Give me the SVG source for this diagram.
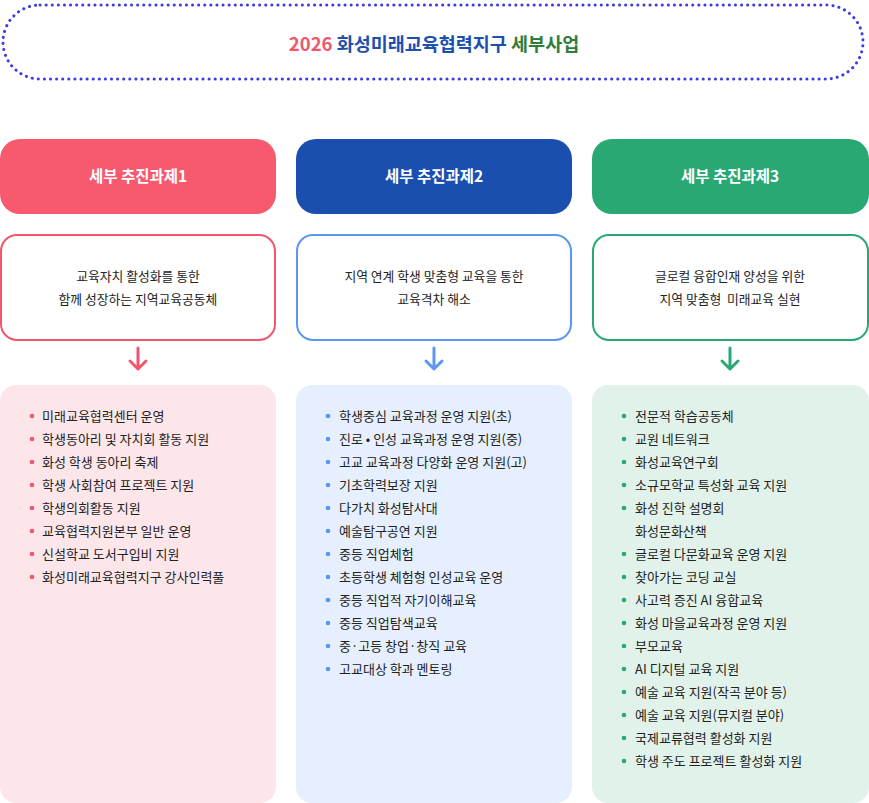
<svg xmlns="http://www.w3.org/2000/svg" width="869" height="803" viewBox="0 0 869 803">
<style>
text{font-family:"Noto Sans CJK KR","Noto Sans",sans-serif}
.h{font-size:15.5px;font-weight:700;fill:#fff;text-anchor:middle}
.d{font-size:12.8px;fill:#222;text-anchor:middle}
.l{font-size:13px;fill:#222}
.desc{fill:#fff;stroke-width:2}
</style>
<rect width="869" height="803" fill="#fff"/>
<g id="title">
<rect x="3" y="5" width="860" height="74" rx="37" fill="none" stroke="#3b3be6" stroke-width="3" stroke-dasharray="0.1 6" stroke-linecap="round"/>
<text x="434" y="51" text-anchor="middle" font-size="18.5" font-weight="700"><tspan fill="#f0566c">2026 </tspan><tspan fill="#1d4fae">화성미래교육협력지구 </tspan><tspan fill="#2e7d3c">세부사업</tspan></text>
</g>
<g id="col1">
<rect x="0" y="139" width="276" height="75" rx="20" fill="#f7596f"/>
<text class="h" x="138" y="182">세부 추진과제1</text>
<rect class="desc" x="1" y="235" width="274" height="105" rx="16" stroke="#f0566c"/>
<text class="d" x="138" y="281">교육자치 활성화를 통한</text>
<text class="d" x="138" y="304">함께 성장하는 지역교육공동체</text>
<rect x="0" y="385" width="276" height="418" rx="16" fill="#fde6ea"/>
<g fill="#f0566c"><circle cx="32" cy="416" r="2.3"/><circle cx="32" cy="439" r="2.3"/><circle cx="32" cy="462" r="2.3"/><circle cx="32" cy="485" r="2.3"/><circle cx="32" cy="508" r="2.3"/><circle cx="32" cy="531" r="2.3"/><circle cx="32" cy="554" r="2.3"/><circle cx="32" cy="577" r="2.3"/></g>
<text class="l" x="42" y="421">미래교육협력센터 운영</text>
<text class="l" x="42" y="444">학생동아리 및 자치회 활동 지원</text>
<text class="l" x="42" y="467">화성 학생 동아리 축제</text>
<text class="l" x="42" y="490">학생 사회참여 프로젝트 지원</text>
<text class="l" x="42" y="513">학생의회활동 지원</text>
<text class="l" x="42" y="536">교육협력지원본부 일반 운영</text>
<text class="l" x="42" y="559">신설학교 도서구입비 지원</text>
<text class="l" x="42" y="582">화성미래교육협력지구 강사인력풀</text>
</g>
<g id="col2">
<rect x="296" y="139" width="276" height="75" rx="20" fill="#1a4fb0"/>
<text class="h" x="434" y="182">세부 추진과제2</text>
<rect class="desc" x="297" y="235" width="274" height="105" rx="16" stroke="#5b97f0"/>
<text class="d" x="434" y="281">지역 연계 학생 맞춤형 교육을 통한</text>
<text class="d" x="434" y="304">교육격차 해소</text>
<rect x="296" y="385" width="276" height="418" rx="16" fill="#e5effd"/>
<g fill="#5b97f0"><circle cx="328" cy="416" r="2.3"/><circle cx="328" cy="439" r="2.3"/><circle cx="328" cy="462" r="2.3"/><circle cx="328" cy="485" r="2.3"/><circle cx="328" cy="508" r="2.3"/><circle cx="328" cy="531" r="2.3"/><circle cx="328" cy="554" r="2.3"/><circle cx="328" cy="577" r="2.3"/><circle cx="328" cy="600" r="2.3"/><circle cx="328" cy="623" r="2.3"/><circle cx="328" cy="646" r="2.3"/><circle cx="328" cy="669" r="2.3"/></g>
<text class="l" x="339" y="421">학생중심 교육과정 운영 지원(초)</text>
<text class="l" x="339" y="444">진로 • 인성 교육과정 운영 지원(중)</text>
<text class="l" x="339" y="467">고교 교육과정 다양화 운영 지원(고)</text>
<text class="l" x="339" y="490">기초학력보장 지원</text>
<text class="l" x="339" y="513">다가치 화성탐사대</text>
<text class="l" x="339" y="536">예술탐구공연 지원</text>
<text class="l" x="339" y="559">중등 직업체험</text>
<text class="l" x="339" y="582">초등학생 체험형 인성교육 운영</text>
<text class="l" x="339" y="605">중등 직업적 자기이해교육</text>
<text class="l" x="339" y="628">중등 직업탐색교육</text>
<text class="l" x="339" y="651">중·고등 창업·창직 교육</text>
<text class="l" x="339" y="674">고교대상 학과 멘토링</text>
</g>
<g id="col3">
<rect x="592" y="139" width="277" height="75" rx="20" fill="#2aa874"/>
<text class="h" x="730" y="182">세부 추진과제3</text>
<rect class="desc" x="593" y="235" width="275" height="105" rx="16" stroke="#2aa874"/>
<text class="d" x="730" y="281">글로컬 융합인재 양성을 위한</text>
<text class="d" x="730" y="304" xml:space="preserve">지역 맞춤형  미래교육 실현</text>
<rect x="592" y="385" width="277" height="418" rx="16" fill="#e0f2ea"/>
<g fill="#2aa874"><circle cx="624" cy="416" r="2.3"/><circle cx="624" cy="439" r="2.3"/><circle cx="624" cy="462" r="2.3"/><circle cx="624" cy="485" r="2.3"/><circle cx="624" cy="508" r="2.3"/><circle cx="624" cy="554" r="2.3"/><circle cx="624" cy="577" r="2.3"/><circle cx="624" cy="600" r="2.3"/><circle cx="624" cy="623" r="2.3"/><circle cx="624" cy="646" r="2.3"/><circle cx="624" cy="669" r="2.3"/><circle cx="624" cy="692" r="2.3"/><circle cx="624" cy="715" r="2.3"/><circle cx="624" cy="738" r="2.3"/><circle cx="624" cy="761" r="2.3"/></g>
<text class="l" x="635" y="421">전문적 학습공동체</text>
<text class="l" x="635" y="444">교원 네트워크</text>
<text class="l" x="635" y="467">화성교육연구회</text>
<text class="l" x="635" y="490">소규모학교 특성화 교육 지원</text>
<text class="l" x="635" y="513">화성 진학 설명회</text>
<text class="l" x="635" y="536">화성문화산책</text>
<text class="l" x="635" y="559">글로컬 다문화교육 운영 지원</text>
<text class="l" x="635" y="582">찾아가는 코딩 교실</text>
<text class="l" x="635" y="605">사고력 증진 AI 융합교육</text>
<text class="l" x="635" y="628">화성 마을교육과정 운영 지원</text>
<text class="l" x="635" y="651">부모교육</text>
<text class="l" x="635" y="674">AI 디지털 교육 지원</text>
<text class="l" x="635" y="697">예술 교육 지원(작곡 분야 등)</text>
<text class="l" x="635" y="720">예술 교육 지원(뮤지컬 분야)</text>
<text class="l" x="635" y="743">국제교류협력 활성화 지원</text>
<text class="l" x="635" y="766">학생 주도 프로젝트 활성화 지원</text>
</g>
<g id="connectors" fill="none" stroke-width="3" stroke-linecap="round" stroke-linejoin="round">
<path d="M138 348V369M130 361L138 369L146 361" stroke="#f0566c"/>
<path d="M434 348V369M426 361L434 369L442 361" stroke="#5b97f0"/>
<path d="M730 348V369M722 361L730 369L738 361" stroke="#2aa874"/>
</g>
</svg>
